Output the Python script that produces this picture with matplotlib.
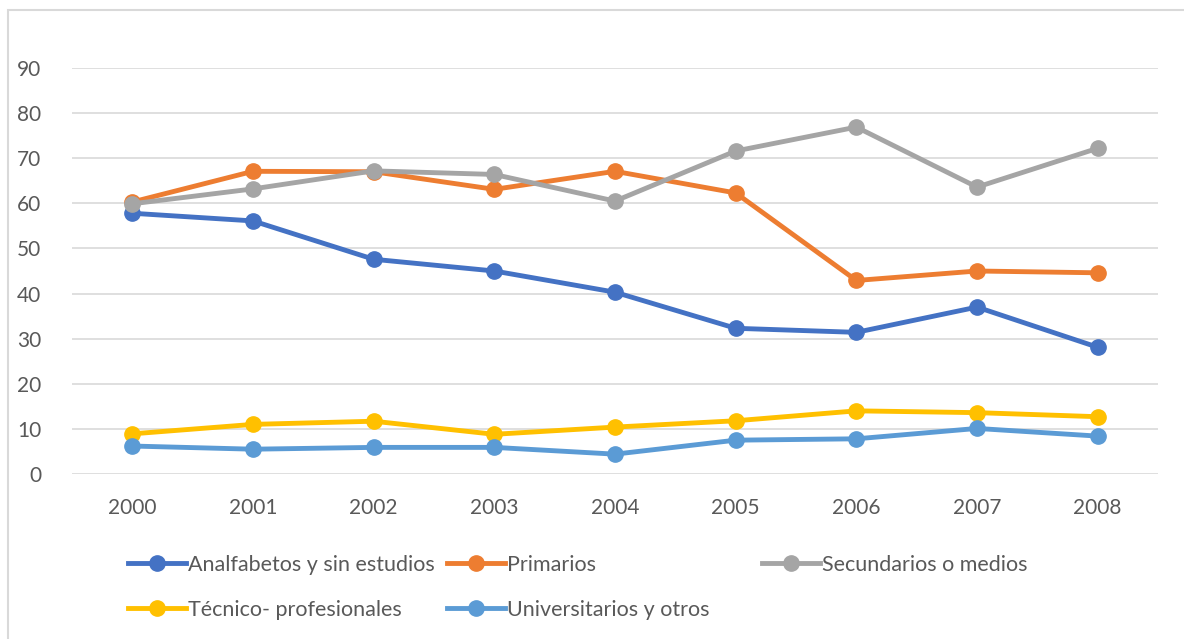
import matplotlib.pyplot as plt
from matplotlib.patches import Rectangle

years = ["2000", "2001", "2002", "2003", "2004", "2005", "2006", "2007", "2008"]
analfabetos = [57.8, 56.1, 47.6, 45.0, 40.3, 32.3, 31.4, 37.0, 28.1]
primarios = [60.3, 67.1, 67.0, 63.1, 67.1, 62.3, 42.9, 45.0, 44.6]
secundarios = [59.9, 63.2, 67.2, 66.4, 60.5, 71.6, 76.9, 63.6, 72.2]
tecnico = [8.9, 11.0, 11.7, 8.8, 10.4, 11.8, 14.0, 13.6, 12.7]
universitarios = [6.2, 5.5, 5.9, 5.9, 4.4, 7.5, 7.8, 10.1, 8.4]

labels = ["Analfabetos y sin estudios", "Primarios", "Secundarios o medios",
          "Técnico- profesionales", "Universitarios y otros"]
colors = ["#4472C4", "#ED7D31", "#A5A5A5", "#FFC000", "#5B9BD5"]
series = [analfabetos, primarios, secundarios, tecnico, universitarios]

plt.rcParams['font.family'] = ['Lato', 'DejaVu Sans']
text_color = "#595959"

fig = plt.figure(figsize=(11.84, 6.39), dpi=100)
ax = fig.add_axes([72 / 1184, 1 - 474 / 639, (1158 - 72) / 1184, (474 - 68) / 639])

x = list(range(len(years)))
handles = []
for vals, lab, col in zip(series, labels, colors):
    h, = ax.plot(x, vals, color=col, lw=3.5, marker='o', markersize=11,
                 label=lab, clip_on=False, solid_joinstyle='round')
    handles.append(h)

ax.set_xlim(-0.5, len(years) - 0.5)
ax.set_ylim(0, 90)
ax.set_yticks(range(0, 91, 10))
ax.set_xticks(x)
ax.set_xticklabels(years)
ax.grid(axis='y', color="#D9D9D9", lw=1.2)
ax.set_axisbelow(True)
for s in ax.spines.values():
    s.set_visible(False)
ax.tick_params(length=0, labelsize=15, colors=text_color)
ax.tick_params(axis='y', pad=22)
ax.tick_params(axis='x', pad=17)

# legend: three columns, Excel-style row order
cols = [([0, 3], 128), ([1, 4], 447), ([2], 762)]
for idx, xpos in cols:
    leg = fig.legend([handles[i] for i in idx], [labels[i] for i in idx],
                     loc='upper left', bbox_to_anchor=(xpos / 1184, 1 - 555 / 639),
                     frameon=False, fontsize=15.5, handlelength=2.7,
                     handletextpad=0.1, labelspacing=1.15, borderpad=0,
                     borderaxespad=0)
    for t in leg.get_texts():
        t.set_color(text_color)

fig.patches.append(Rectangle((8 / 1184, -0.01), 1.1, 1 - 10 / 639 + 0.01,
                             transform=fig.transFigure, fill=False,
                             edgecolor="#D9D9D9", lw=1.5))

fig.savefig("out.png", dpi=100)
